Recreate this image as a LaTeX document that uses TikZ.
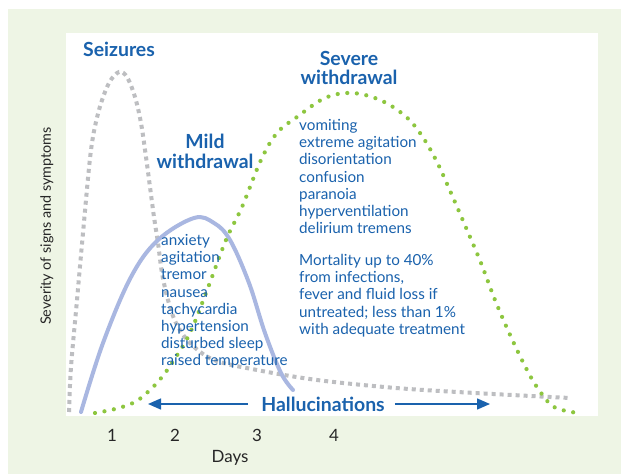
\documentclass[tikz,border=0pt]{standalone}
\usepackage{fontspec}
\setmainfont{Lato}
\usetikzlibrary{arrows.meta}
\definecolor{bgreen}{HTML}{EEF5E5}
\definecolor{tblue}{HTML}{1A62AD}
\definecolor{dotgreen}{HTML}{8DC63F}
\definecolor{seizgray}{HTML}{BDBEC1}
\definecolor{mildblue}{HTML}{A9B7E1}
\definecolor{axisgray}{HTML}{262626}
\tikzset{
  heading/.style={font=\fontsize{19.5}{20}\selectfont\bfseries, text=tblue, align=center, inner sep=0pt},
  symptoms/.style={font=\fontsize{15.3}{17.3}\selectfont, text=tblue, align=left, inner sep=0pt, anchor=north west},
  axistext/.style={font=\fontsize{17}{19}\selectfont, text=axisgray, inner sep=0pt},
  seizurecurve/.style={seizgray, line width=4bp, dash pattern=on 4bp off 4bp},
  mildcurve/.style={mildblue, line width=4bp, line cap=round},
  severecurve/.style={dotgreen, line width=4.2bp, line cap=round, dash pattern=on 0bp off 9.6bp},
  hallarrow/.style={tblue, line width=1.4bp, -{Triangle[length=13bp,width=11bp]}}
}
\begin{document}
\begin{tikzpicture}[x=1bp, y=-1bp]
  \useasboundingbox (0,0) rectangle (621,474);
  % frame and plotting panel
  \fill[white] (0,0) rectangle (621,474);
  \fill[bgreen] (8,9) rectangle (621,474);
  \fill[white] (66,33) rectangle (598,416);

  % seizures: sharp early peak with a long low tail
  \draw[seizurecurve] plot[smooth, tension=0.55] coordinates {
    (69,412) (71,367) (77,300) (83,233) (91,150) (99,110) (109,83) (119,72)
    (127,77) (135,97) (141,123) (146,157) (150,187) (154,217) (158,243)
    (162,273) (168,300) (176,323) (190,343) (214,360) (257,370) (317,380)
    (396,388) (475,393) (570,398)};

  % mild withdrawal
  \draw[mildcurve] plot[smooth, tension=0.6] coordinates {
    (81,412) (103,343) (131,277) (158,240) (194,218) (214,223) (230,240)
    (249,283) (265,333) (281,373) (293,390)};

  % severe withdrawal
  \draw[severecurve] plot[smooth, tension=0.6] coordinates {
    (95,413) (115,409) (135,402) (150,390) (162,377) (174,360) (190,333)
    (206,293) (226,240) (242,207) (261,160) (277,133) (297,117) (325,98)
    (352,93) (380,100) (404,115) (420,133) (436,160) (451,193) (467,230)
    (481,263) (495,300) (511,337) (527,370) (539,390) (554,407) (578,413)};

  % headings
  \node[heading] (seiz) at (119,49) {Seizures};
  \node[heading] (severe) at (349,68) {Severe\\withdrawal};
  \node[heading] (mild) at (205,151) {Mild\\withdrawal};

  % symptom lists
  \node[symptoms] (mildlist) at (161,234) {anxiety\\agitation\\tremor\\nausea\\tachycardia\\hypertension\\disturbed sleep\\raised temperature};
  \node[symptoms] (severelist) at (299,119) {vomiting\\extreme agitation\\disorientation\\confusion\\paranoia\\hyperventilation\\delirium tremens};
  \node[symptoms] (mortality) at (299,254) {Mortality up to 40\%\\from infections,\\fever and fluid loss if\\untreated; less than 1\%\\with adequate treatment};

  % hallucinations span
  \node[heading] (hall) at (323,404) {Hallucinations};
  \coordinate (hallL) at (148,404);
  \coordinate (hallR) at (490,404);
  \draw[hallarrow] ([xshift=-13bp]hall.west) -- (hallL);
  \draw[hallarrow] ([xshift=10bp]hall.east) -- (hallR);

  % axes labels
  \node[axistext] (d1) at (112,435) {1};
  \node[axistext] (d2) at (175,435) {2};
  \node[axistext] (d3) at (257,435) {3};
  \node[axistext] (d4) at (334,435) {4};
  \node[axistext] (days) at (230,458) {Days};
  \node[axistext, font=\fontsize{14.4}{16}\selectfont, rotate=90] (sev) at (47,226) {Severity of signs and symptoms};
\end{tikzpicture}
\end{document}
